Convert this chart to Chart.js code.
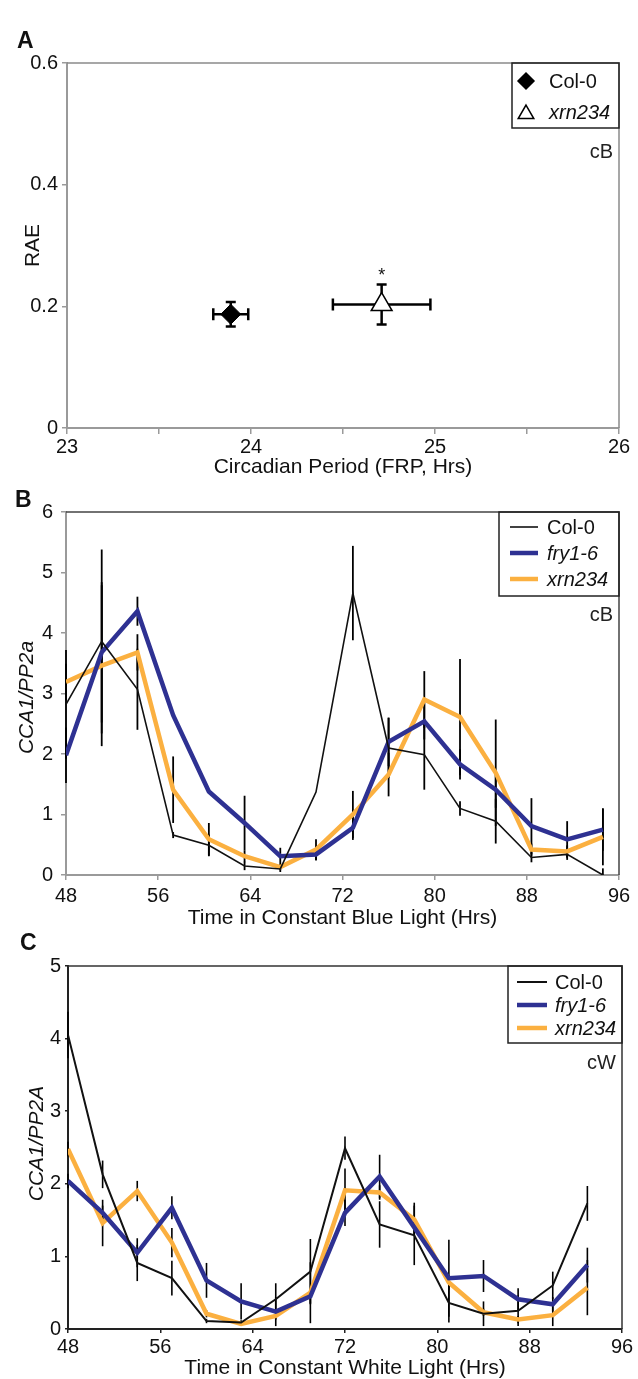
<!DOCTYPE html>
<html><head><meta charset="utf-8">
<script src="https://cdn.jsdelivr.net/npm/chart.js@4.4.1/dist/chart.umd.min.js"></script>
<style>
html,body{margin:0;padding:0;background:#fff;}
body{width:638px;height:1379px;position:relative;overflow:hidden;}
canvas{position:absolute;left:0;}
</style>
</head><body>
<canvas id="cA" width="638" height="480" style="top:0px"></canvas>
<canvas id="cB" width="638" height="450" style="top:480px"></canvas>
<canvas id="cC" width="638" height="449" style="top:930px"></canvas>
<script>
// ---------------- Panel A data ----------------
const aGenotypes = ['Col-0', 'xrn234'];
const aPeriod = [23.89, 24.71];
const aPeriodErr = [0.095, 0.265];
const aRAE = [0.187, 0.203];
const aRAEErr = [0.020, 0.033];
const aXTicks = [23, 24, 25, 26];
const aXMinorTicks = [23.5, 24.5, 25.5];
const aYTicks = [0, 0.2, 0.4, 0.6];
const aYTickLabels = ['0', '0.2', '0.4', '0.6'];

// ---------------- Panel B data (constant blue light) ----------------
const bTime = [48, 51.1, 54.2, 57.3, 60.4, 63.5, 66.6, 69.7, 72.9, 76, 79.1, 82.2, 85.3, 88.4, 91.5, 94.6];
const bCol0 = [2.82, 3.86, 3.07, 0.66, 0.49, 0.15, 0.10, 1.37, 4.66, 2.10, 1.99, 1.10, 0.89, 0.29, 0.34, 0.00];
const bCol0Err = [0.90, 1.52, 0.67, 0.05, 0.18, 0.07, 0.05, 0.00, 0.78, 0.50, 0.58, 0.12, 0.37, 0.08, 0.09, 0.11];
const bFry = [1.98, 3.68, 4.36, 2.64, 1.38, 0.86, 0.31, 0.34, 0.78, 2.20, 2.54, 1.83, 1.41, 0.81, 0.59, 0.75];
const bFryErr = [0.46, 1.16, 0.24, 0.00, 0.00, 0.45, 0.14, 0.10, 0.20, 0.40, 0.30, 0.25, 0.30, 0.46, 0.30, 0.35];
const bXrn = [3.19, 3.46, 3.68, 1.41, 0.59, 0.31, 0.13, 0.42, 1.00, 1.66, 2.90, 2.61, 1.69, 0.42, 0.39, 0.63];
const bXrnErr = [0.30, 1.33, 0.30, 0.55, 0.27, 0.10, 0.05, 0.17, 0.39, 0.36, 0.47, 0.96, 0.88, 0.10, 0.10, 0.47];
const bXTicks = [48, 56, 64, 72, 80, 88, 96];
const bYTicks = [0, 1, 2, 3, 4, 5, 6];

// ---------------- Panel C data (constant white light) ----------------
const cTime = [48, 51, 54, 57, 60, 63, 66, 69, 72, 75, 78, 81, 84, 87, 90, 93];
const cCol0 = [4.05, 2.13, 0.91, 0.70, 0.11, 0.09, 0.41, 0.79, 2.49, 1.44, 1.29, 0.36, 0.21, 0.25, 0.60, 1.73];
const cCol0Err = [0.32, 0.19, 0.25, 0.24, 0.03, 0.03, 0.22, 0.45, 0.16, 0.32, 0.41, 0.27, 0.17, 0.21, 0.19, 0.24];
const cFry = [2.04, 1.60, 1.05, 1.67, 0.67, 0.38, 0.24, 0.45, 1.60, 2.10, 1.40, 0.70, 0.73, 0.41, 0.34, 0.88];
const cFryErr = [0.10, 0.10, 0.20, 0.16, 0.24, 0.25, 0.20, 0.10, 0.18, 0.30, 0.10, 0.53, 0.22, 0.15, 0.10, 0.24];
const cXrn = [2.48, 1.46, 1.90, 1.19, 0.21, 0.07, 0.18, 0.50, 1.91, 1.88, 1.51, 0.64, 0.23, 0.13, 0.19, 0.57];
const cXrnErr = [0.10, 0.32, 0.14, 0.20, 0.05, 0.02, 0.05, 0.42, 0.30, 0.10, 0.23, 0.10, 0.05, 0.05, 0.15, 0.38];
const cXTicks = [48, 56, 64, 72, 80, 88, 96];
const cYTicks = [0, 1, 2, 3, 4, 5];

const FONT = '"Liberation Sans", Arial, Helvetica, sans-serif';
const NAVY = '#2e3192';
const ORANGE = '#fbb040';

function pts(xs, ys) { return xs.map((x, i) => ({x: x, y: ys[i]})); }

// ---------------- decoration plugin ----------------
const deco = {
  id: 'deco',
  beforeDatasetsDraw(chart, args, o) {
    const ctx = chart.ctx, xs = chart.scales.x, ys = chart.scales.y;
    ctx.save();
    ctx.strokeStyle = o.errColor || '#000';
    ctx.lineWidth = o.errWidth || 1.8;
    ctx.lineCap = 'butt';
    chart.data.datasets.forEach((ds) => {
      ds.data.forEach((p, i) => {
        const px = xs.getPixelForValue(p.x), py = ys.getPixelForValue(p.y);
        if (ds.errY && ds.errY[i]) {
          const y1 = ys.getPixelForValue(p.y + ds.errY[i]);
          const y2 = ys.getPixelForValue(Math.max(p.y - ds.errY[i], ys.min));
          ctx.beginPath(); ctx.moveTo(px, y1); ctx.lineTo(px, y2); ctx.stroke();
          if (o.cap) {
            ctx.beginPath();
            ctx.moveTo(px - o.cap, y1); ctx.lineTo(px + o.cap, y1);
            ctx.moveTo(px - o.cap, y2); ctx.lineTo(px + o.cap, y2);
            ctx.stroke();
          }
        }
        if (ds.errX && ds.errX[i]) {
          const x1 = xs.getPixelForValue(p.x - ds.errX[i]);
          const x2 = xs.getPixelForValue(p.x + ds.errX[i]);
          ctx.beginPath(); ctx.moveTo(x1, py); ctx.lineTo(x2, py); ctx.stroke();
          if (o.cap) {
            const c = o.capX || o.cap;
            ctx.beginPath();
            ctx.moveTo(x1, py - c); ctx.lineTo(x1, py + c);
            ctx.moveTo(x2, py - c); ctx.lineTo(x2, py + c);
            ctx.stroke();
          }
        }
      });
    });
    ctx.restore();
  },
  afterDraw(chart, args, o) {
    const ctx = chart.ctx, ca = chart.chartArea, xs = chart.scales.x, ys = chart.scales.y;
    ctx.save();
    // top and right frame
    ctx.strokeStyle = o.frameColor; ctx.lineWidth = o.frameWidth;
    ctx.beginPath();
    ctx.moveTo(ca.left, ca.top); ctx.lineTo(ca.right, ca.top); ctx.lineTo(ca.right, ca.bottom);
    ctx.stroke();
    // significance marks
    ctx.fillStyle = '#111';
    chart.data.datasets.forEach((ds) => {
      if (ds.mark) {
        ds.data.forEach((p, i) => {
          ctx.font = '18px ' + FONT; ctx.textAlign = 'center'; ctx.textBaseline = 'alphabetic';
          ctx.fillText(ds.mark, xs.getPixelForValue(p.x), ys.getPixelForValue(p.y + ds.errY[i]) - 3);
        });
      }
    });
    // legend
    const L = o.legend;
    ctx.strokeStyle = '#222'; ctx.lineWidth = 1.5;
    ctx.strokeRect(L.x, ca.top, ca.right - L.x, L.h);
    chart.data.datasets.forEach((ds, i) => {
      const y = ca.top + L.rows[i];
      if (L.kind === 'marker') {
        ctx.fillStyle = ds.backgroundColor; ctx.strokeStyle = ds.borderColor; ctx.lineWidth = 1.5;
        Chart.helpers.drawPoint(ctx, {pointStyle: ds.pointStyle, radius: L.radius[i], borderWidth: 1.5}, L.mx, y + (L.mdy ? L.mdy[i] : 0));
        if (ds.pointStyle !== 'triangle') ctx.fill();
      } else {
        ctx.strokeStyle = ds.borderColor; ctx.lineWidth = ds.borderWidth; ctx.lineCap = 'butt';
        ctx.beginPath(); ctx.moveTo(L.sx1, y); ctx.lineTo(L.sx2, y); ctx.stroke();
      }
      ctx.fillStyle = '#111';
      ctx.font = (ds.italic ? 'italic ' : '') + '20px ' + FONT;
      ctx.textAlign = 'left'; ctx.textBaseline = 'middle';
      ctx.fillText(ds.label, L.tx, y + 1);
    });
    // light condition note
    ctx.font = '20px ' + FONT; ctx.textAlign = 'right'; ctx.textBaseline = 'middle'; ctx.fillStyle = '#222';
    ctx.fillText(o.note, ca.right - 6, ca.top + o.noteDy);
    // axis titles
    ctx.fillStyle = '#111';
    ctx.font = '21px ' + FONT; ctx.textAlign = 'center'; ctx.textBaseline = 'middle';
    ctx.fillText(o.xTitle, (ca.left + ca.right) / 2, o.xTitleY);
    ctx.save();
    ctx.translate(o.yTitleX, (ca.top + ca.bottom) / 2 + (o.yTitleDy || 0));
    ctx.rotate(-Math.PI / 2);
    ctx.font = (o.yTitleItalic ? 'italic ' : '') + '21px ' + FONT;
    ctx.fillText(o.yTitle, 0, 0);
    ctx.restore();
    // panel letter
    ctx.font = 'bold 23px ' + FONT; ctx.textAlign = 'left'; ctx.textBaseline = 'alphabetic';
    ctx.fillText(o.letter, o.letterX, o.letterY);
    ctx.restore();
  }
};

function makeAxes(cfg) {
  return {
    x: {
      type: 'linear', min: cfg.xMin, max: cfg.xMax,
      afterFit(s) { s.height = cfg.xH; },
      afterBuildTicks(s) { s.ticks = cfg.xTickPos.map(v => ({value: v})); },
      border: {color: cfg.axisColor, width: 2},
      grid: {drawOnChartArea: false, drawTicks: true, tickLength: cfg.xTickLen, color: cfg.axisColor, lineWidth: 1.5},
      ticks: {color: '#111', font: {family: FONT, size: 20}, padding: cfg.xPad, maxRotation: 0, autoSkip: false,
        callback: cfg.xLabel}
    },
    y: {
      type: 'linear', min: cfg.yMin, max: cfg.yMax,
      afterFit(s) { s.width = cfg.yW; },
      afterBuildTicks(s) { s.ticks = cfg.yTickPos.map(v => ({value: v})); },
      border: {color: cfg.axisColor, width: 2},
      grid: {drawOnChartArea: false, drawTicks: true, tickLength: cfg.yTickLen, color: cfg.axisColor, lineWidth: 1.5},
      ticks: {color: '#111', font: {family: FONT, size: 20}, padding: cfg.yPad, autoSkip: false,
        callback: cfg.yLabel}
    }
  };
}

Chart.defaults.font.family = FONT;

// ---------------- Chart A ----------------
new Chart(document.getElementById('cA'), {
  type: 'scatter',
  data: {
    datasets: [
      {label: aGenotypes[0], data: [{x: aPeriod[0], y: aRAE[0]}], errX: [aPeriodErr[0]], errY: [aRAEErr[0]],
        pointStyle: 'rectRot', pointRadius: 10, pointHoverRadius: 10, backgroundColor: '#000', borderColor: '#000', borderWidth: 1, italic: false},
      {label: aGenotypes[1], data: [{x: aPeriod[1], y: aRAE[1]}], errX: [aPeriodErr[1]], errY: [aRAEErr[1]], mark: '*',
        pointStyle: 'triangle', pointRadius: 12, pointHoverRadius: 12, backgroundColor: '#fff', borderColor: '#000', borderWidth: 1.5, italic: true}
    ]
  },
  options: {
    responsive: false, animation: false, devicePixelRatio: 1,
    layout: {padding: {left: 0, right: 19, top: 63, bottom: 0}},
    scales: makeAxes({xMin: 23, xMax: 26, yMin: 0, yMax: 0.6, xH: 52, yW: 67,
      xTickPos: aXTicks.concat(aXMinorTicks).sort((a, b) => a - b), yTickPos: aYTicks,
      xLabel: v => aXTicks.includes(v) ? String(v) : '',
      yLabel: v => aYTickLabels[aYTicks.indexOf(v)],
      axisColor: '#9a9a9a', xTickLen: 6, yTickLen: 5, xPad: 1, yPad: 4}),
    plugins: {
      legend: {display: false}, tooltip: {enabled: false},
      deco: {errColor: '#000', errWidth: 2.5, cap: 5, capX: 6, frameColor: '#8a8a8a', frameWidth: 1.5,
        legend: {kind: 'marker', x: 512, h: 65, rows: [18, 49], radius: [8, 9], mdy: [0, 2], mx: 526, tx: 549},
        note: 'cB', noteDy: 89,
        xTitle: 'Circadian Period (FRP, Hrs)', xTitleY: 467,
        yTitle: 'RAE', yTitleX: 33, yTitleItalic: false,
        letter: 'A', letterX: 17, letterY: 48}
    }
  },
  plugins: [deco]
});

// ---------------- Chart B ----------------
new Chart(document.getElementById('cB'), {
  type: 'line',
  data: {
    datasets: [
      {label: 'Col-0', data: pts(bTime, bCol0), errY: bCol0Err, borderColor: '#111', backgroundColor: '#111', borderWidth: 1.6, pointRadius: 0, tension: 0, italic: false},
      {label: 'fry1-6', data: pts(bTime, bFry), errY: bFryErr, borderColor: NAVY, backgroundColor: NAVY, borderWidth: 4.5, pointRadius: 0, tension: 0, italic: true},
      {label: 'xrn234', data: pts(bTime, bXrn), errY: bXrnErr, borderColor: ORANGE, backgroundColor: ORANGE, borderWidth: 4.5, pointRadius: 0, tension: 0, italic: true}
    ]
  },
  options: {
    responsive: false, animation: false, devicePixelRatio: 1,
    layout: {padding: {left: 0, right: 19, top: 32, bottom: 0}},
    scales: makeAxes({xMin: 48, xMax: 96, yMin: 0, yMax: 6, xH: 55, yW: 66,
      xTickPos: bXTicks, yTickPos: bYTicks,
      xLabel: v => String(v), yLabel: v => String(v),
      axisColor: '#9a9a9a', xTickLen: 5, yTickLen: 5, xPad: 4, yPad: 8}),
    plugins: {
      legend: {display: false}, tooltip: {enabled: false},
      deco: {errColor: '#000', errWidth: 1.8, cap: 0, frameColor: '#444', frameWidth: 1.5,
        legend: {kind: 'line', x: 499, h: 84, rows: [15, 41, 67], sx1: 510, sx2: 538, tx: 547},
        note: 'cB', noteDy: 103,
        xTitle: 'Time in Constant Blue Light (Hrs)', xTitleY: 438,
        yTitle: 'CCA1/PP2a', yTitleX: 27, yTitleItalic: true, yTitleDy: 4,
        letter: 'B', letterX: 15, letterY: 27}
    }
  },
  plugins: [deco]
});

// ---------------- Chart C ----------------
new Chart(document.getElementById('cC'), {
  type: 'line',
  data: {
    datasets: [
      {label: 'Col-0', data: pts(cTime, cCol0), errY: cCol0Err, borderColor: '#111', backgroundColor: '#111', borderWidth: 2, pointRadius: 0, tension: 0, italic: false},
      {label: 'fry1-6', data: pts(cTime, cFry), errY: cFryErr, borderColor: NAVY, backgroundColor: NAVY, borderWidth: 4.5, pointRadius: 0, tension: 0, italic: true},
      {label: 'xrn234', data: pts(cTime, cXrn), errY: cXrnErr, borderColor: ORANGE, backgroundColor: ORANGE, borderWidth: 4.5, pointRadius: 0, tension: 0, italic: true}
    ]
  },
  options: {
    responsive: false, animation: false, devicePixelRatio: 1,
    layout: {padding: {left: 0, right: 16, top: 36, bottom: 0}},
    scales: makeAxes({xMin: 48, xMax: 96, yMin: 0, yMax: 5, xH: 50, yW: 68,
      xTickPos: cXTicks, yTickPos: cYTicks,
      xLabel: v => String(v), yLabel: v => String(v),
      axisColor: '#222', xTickLen: 4, yTickLen: 3, xPad: 2, yPad: 4}),
    plugins: {
      legend: {display: false}, tooltip: {enabled: false},
      deco: {errColor: '#000', errWidth: 1.6, cap: 0, frameColor: '#333', frameWidth: 1.5,
        legend: {kind: 'line', x: 508, h: 77, rows: [16, 39, 62], sx1: 517, sx2: 547, tx: 555},
        note: 'cW', noteDy: 97,
        xTitle: 'Time in Constant White Light (Hrs)', xTitleY: 438,
        yTitle: 'CCA1/PP2A', yTitleX: 37, yTitleItalic: true, yTitleDy: -4,
        letter: 'C', letterX: 20, letterY: 20}
    }
  },
  plugins: [deco]
});
</script>
</body></html>
